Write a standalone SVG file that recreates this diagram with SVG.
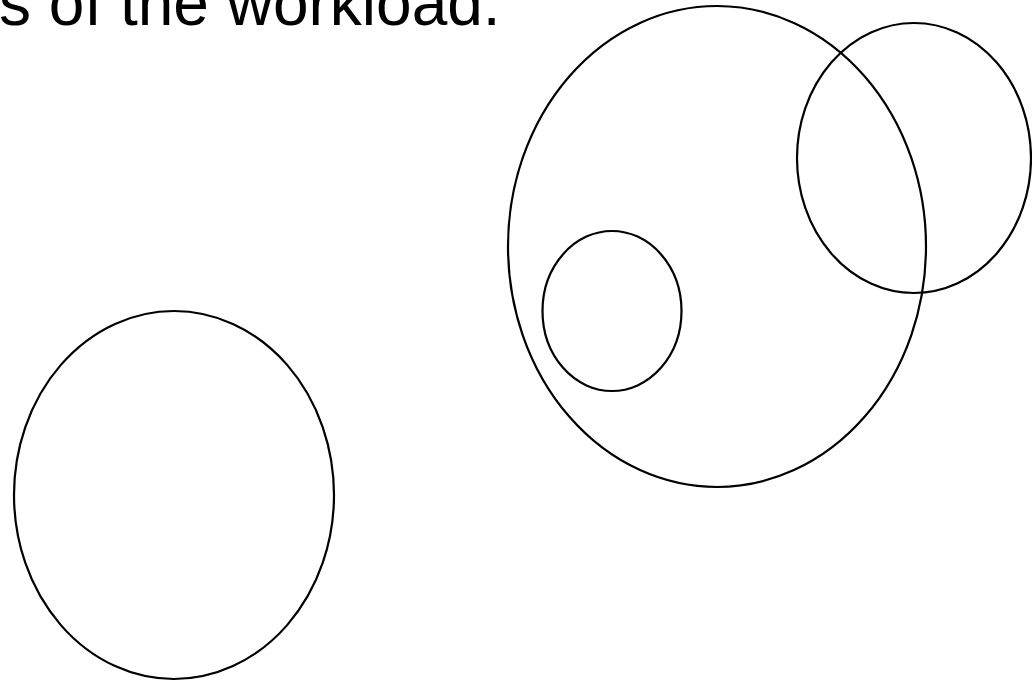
<svg xmlns="http://www.w3.org/2000/svg" width="1032" height="683" viewBox="0 0 1032 683">
<style>
.sh{fill:none;stroke:#000;stroke-width:2.2}
.t{font-family:"Liberation Sans",Arial,sans-serif;font-size:64px;fill:#000}
</style>
<rect width="1032" height="683" fill="#fff"/>
<text class="t" x="-1" y="25">s of the workload.</text>
<g id="big"><ellipse class="sh" cx="717" cy="246.5" rx="209" ry="240.5"/></g>
<g id="right"><ellipse class="sh" cx="914" cy="158" rx="117" ry="135"/></g>
<g id="small"><ellipse class="sh" cx="612" cy="311" rx="69.5" ry="80"/></g>
<g id="left"><ellipse class="sh" cx="174" cy="495" rx="160" ry="184"/></g>
<g id="connectors"></g>
</svg>
